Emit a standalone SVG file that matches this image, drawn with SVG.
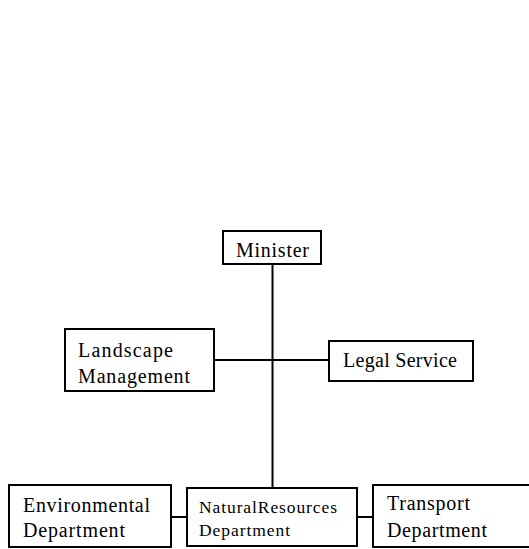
<svg xmlns="http://www.w3.org/2000/svg" width="529" height="549" viewBox="0 0 529 549">
  <style>
    .box { fill: #ffffff; stroke: #000000; stroke-width: 2; }
    .link { fill: none; stroke: #000000; stroke-width: 2; }
    .lbl { font-family: "Liberation Serif", "Times New Roman", serif; font-size: 20px; fill: #000000; }
    .small { font-size: 17.5px; }
  </style>
  <rect width="529" height="549" fill="#ffffff"/>

  <!-- connectors -->
  <g id="connectors">
    <line class="link" x1="272.5" y1="264" x2="272.5" y2="488"/>
    <line class="link" x1="214" y1="360" x2="329" y2="360"/>
    <line class="link" x1="171" y1="517" x2="187" y2="517"/>
    <line class="link" x1="357" y1="517" x2="373" y2="517"/>
  </g>

  <g id="minister">
    <rect class="box" x="223" y="231" width="98" height="33"/>
    <text class="lbl" x="236" y="257" textLength="73" lengthAdjust="spacing">Minister</text>
  </g>

  <g id="landscape-management">
    <rect class="box" x="65" y="329" width="149" height="62"/>
    <text class="lbl" x="78" y="357" textLength="95" lengthAdjust="spacing">Landscape</text>
    <text class="lbl" x="78" y="383" textLength="112" lengthAdjust="spacing">Management</text>
  </g>

  <g id="legal-service">
    <rect class="box" x="329" y="341" width="144" height="40"/>
    <text class="lbl" x="343" y="367" textLength="114" lengthAdjust="spacing">Legal Service</text>
  </g>

  <g id="environmental-department">
    <rect class="box" x="9" y="485" width="162" height="62"/>
    <text class="lbl" x="23" y="512" textLength="127" lengthAdjust="spacing">Environmental</text>
    <text class="lbl" x="23" y="537" textLength="102" lengthAdjust="spacing">Department</text>
  </g>

  <g id="natural-resources-department">
    <rect class="box" x="187" y="488" width="170" height="58"/>
    <text class="lbl small" x="199" y="513" textLength="138" lengthAdjust="spacing">NaturalResources</text>
    <text class="lbl small" x="199" y="536" textLength="91" lengthAdjust="spacing">Department</text>
  </g>

  <g id="transport-department">
    <rect class="box" x="373" y="485" width="170" height="62"/>
    <text class="lbl" x="387" y="510" textLength="83" lengthAdjust="spacing">Transport</text>
    <text class="lbl" x="387" y="537" textLength="100" lengthAdjust="spacing">Department</text>
  </g>
</svg>
